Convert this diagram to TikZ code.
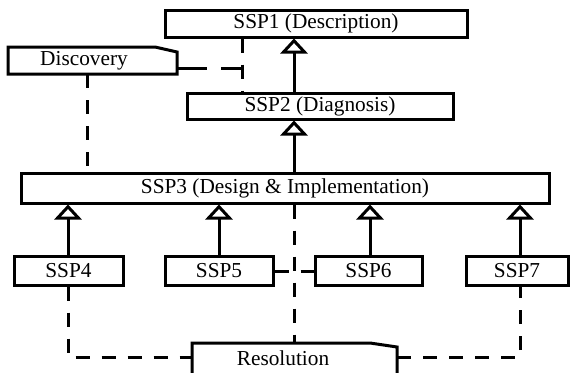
\documentclass[tikz,border=0pt]{standalone}
\usepackage{fontspec}
\setmainfont{Liberation Serif}
\usetikzlibrary{arrows.meta,calc}
\begin{document}
\begin{tikzpicture}[x=1pt,y=-1pt,
  lbl/.style={font=\fontsize{21.3}{24}\selectfont},
  box/.style={lbl, draw, line width=3pt, inner sep=0pt},
  shapeonly/.style={inner sep=0pt, outer sep=0pt},
  outline/.style={line width=3pt, line join=miter},
  gen/.style={line width=3pt, -{Triangle[open, width=27pt, length=15pt]}},
  dep/.style={line width=3pt, dash pattern=on 14pt off 12pt},
]
\useasboundingbox (0,0) rectangle (572,372);

% column and row guides for the connectors
\coordinate (cmain) at (294,0);
\coordinate (cdisc) at (242,0);
\coordinate (cdown) at (87,0);
\coordinate (c4) at (68,0);
\coordinate (c5) at (219,0);
\coordinate (c6) at (370,0);
\coordinate (c7) at (520,0);
\coordinate (rowdisc) at (0,68);
\coordinate (row56) at (0,271);
\coordinate (rowlow) at (0,357);

% stage boxes
\node[box, minimum width=302pt, minimum height=27pt] (ssp1) at (316,23.5) {SSP1 (Description)};
\node[box, minimum width=266pt, minimum height=26pt] (ssp2) at (320,106) {SSP2 (Diagnosis)};
\node[box, minimum width=528pt, minimum height=30pt] (ssp3) at (285,188) {SSP3 (Design \& Implementation)};
\node[box, minimum width=109pt, minimum height=29pt] (ssp4) at (68.5,270.5) {SSP4};
\node[box, minimum width=108pt, minimum height=29pt] (ssp5) at (219,270.5) {SSP5};
\node[box, minimum width=107pt, minimum height=29pt] (ssp6) at (368.5,270.5) {SSP6};
\node[box, minimum width=102pt, minimum height=29pt] (ssp7) at (517,270.5) {SSP7};

% note-like boxes with a clipped top-right corner
\node[shapeonly, minimum width=169pt, minimum height=27pt] (disc) at (92.5,60.5) {};
\draw[outline] (disc.south west) -- (disc.north west) -- ([xshift=-22pt]disc.north east)
  -- ([yshift=-5pt]disc.north east) -- (disc.south east) -- cycle;
\node[lbl, inner sep=0pt] (disctext) at (84,61) {Discovery};

\node[shapeonly, minimum width=205pt, minimum height=37pt] (res) at (294.5,361.5) {};
\draw[outline] (res.south west) -- (res.north west) -- ([xshift=-27pt]res.north east)
  -- ([yshift=-4pt]res.north east) -- (res.south east) -- cycle;
\node[lbl, inner sep=0pt] (restext) at (283,358) {Resolution};

% generalisation arrows
\draw[gen] (ssp2.north -| cmain) -- (ssp1.south -| cmain);
\draw[gen] (ssp3.north -| cmain) -- (ssp2.south -| cmain);
\draw[gen] (ssp4.north -| c4) -- (ssp3.south -| c4);
\draw[gen] (ssp5.north -| c5) -- (ssp3.south -| c5);
\draw[gen] (ssp6.north -| c6) -- (ssp3.south -| c6);
\draw[gen] (ssp7.north -| c7) -- (ssp3.south -| c7);

% dashed links
\draw[dep] (ssp1.south -| cdisc) -- (ssp2.north -| cdisc);
\draw[dep, dash pattern=on 30pt off 14pt] (disc.east |- rowdisc) -- (cdisc |- rowdisc);
\draw[dep] (disc.south -| cdown) -- (ssp3.north -| cdown);
\draw[dep] (ssp3.south -| cmain) -- (res.north -| cmain);
\draw[dep] (ssp5.east |- row56) -- (ssp6.west |- row56);
\draw[dep] (ssp4.south -| c4) |- (res.west |- rowlow);
\draw[dep] (res.east |- rowlow) -| (ssp7.south -| c7);
\end{tikzpicture}
\end{document}
